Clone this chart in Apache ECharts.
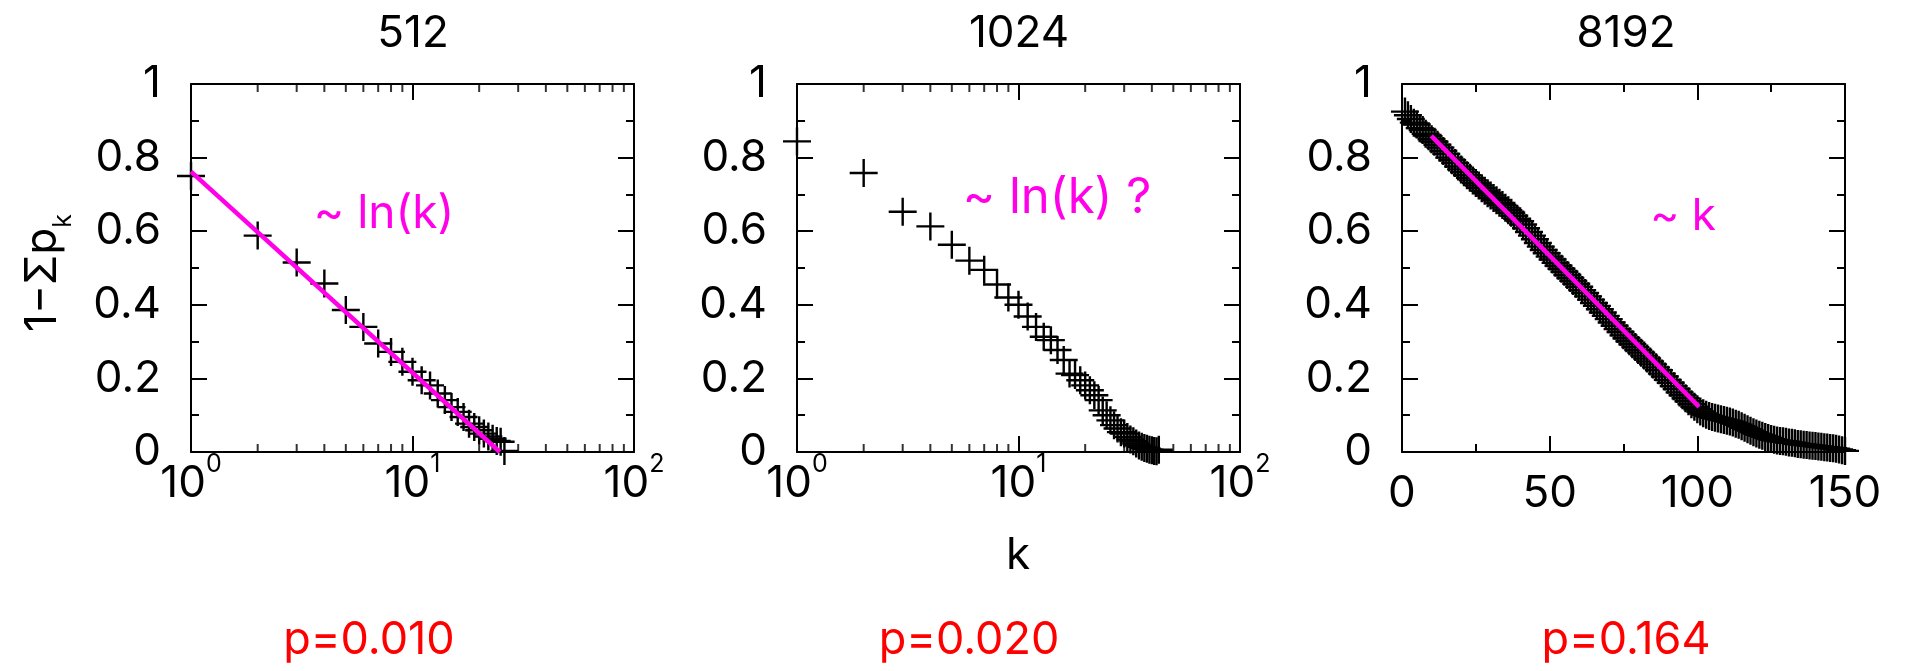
<!DOCTYPE html>
<html>
<head>
<meta charset="utf-8">
<script src="https://cdn.jsdelivr.net/npm/echarts@6/dist/echarts.min.js"></script>
<style>
html,body{margin:0;padding:0;background:#fff;}
#c{width:1905px;height:671px;}
</style>
</head>
<body>
<div id="c"></div>
<script>
// ---- data ----
const panelTitles = ['512', '1024', '8192'];
const pLabels = ['p=0.010', 'p=0.020', 'p=0.164'];
const fitLabels = ['~ ln(k)', '~ ln(k) ?', '~ k'];
const logMinorTicks = [2, 3, 4, 5, 6, 7, 8, 9, 20, 30, 40, 50, 60, 70, 80, 90];

const v512 = [0.750, 0.588, 0.515, 0.458, 0.386, 0.340, 0.295, 0.272, 0.245, 0.218,
  0.195, 0.181, 0.159, 0.141, 0.122, 0.109, 0.095, 0.077, 0.068, 0.059,
  0.050, 0.042, 0.036, 0.030, 0.028, 0.003];
const fit512 = [[1, 0.762], [24.8, 0]];

const v1024 = [0.844, 0.758, 0.653, 0.613, 0.563, 0.520, 0.495, 0.455, 0.420, 0.400,
  0.368, 0.340, 0.313, 0.304, 0.277, 0.250, 0.213, 0.209, 0.195, 0.181,
  0.168, 0.154, 0.141, 0.113, 0.100, 0.086, 0.073, 0.064, 0.054, 0.050,
  0.041, 0.034, 0.029, 0.023, 0.018, 0.014, 0.011, 0.009, 0.006, 0.005,
  0.003, 0.002, 0.006];

const v8192 = [0.925, 0.915, 0.905, 0.895, 0.890, 0.880, 0.875, 0.865, 0.858, 0.850,
  0.843, 0.835, 0.827, 0.818, 0.810, 0.800, 0.793, 0.785, 0.776, 0.768,
  0.760, 0.752, 0.745, 0.738, 0.731, 0.724, 0.717, 0.710, 0.703, 0.697,
  0.690, 0.684, 0.677, 0.671, 0.664, 0.657, 0.650, 0.642, 0.634, 0.627,
  0.618, 0.608, 0.598, 0.588, 0.578, 0.568, 0.558, 0.549, 0.540, 0.531,
  0.523, 0.514, 0.506, 0.498, 0.490, 0.481, 0.473, 0.465, 0.457, 0.449,
  0.440, 0.432, 0.423, 0.414, 0.405, 0.397, 0.388, 0.379, 0.370, 0.361,
  0.352, 0.343, 0.334, 0.326, 0.317, 0.309, 0.301, 0.293, 0.285, 0.277,
  0.270, 0.262, 0.254, 0.246, 0.238, 0.230, 0.222, 0.213, 0.205, 0.196,
  0.188, 0.179, 0.171, 0.162, 0.154, 0.146, 0.138, 0.130, 0.123, 0.116,
  0.110, 0.105, 0.101, 0.098, 0.095, 0.093, 0.091, 0.089, 0.087, 0.085,
  0.083, 0.080, 0.077, 0.074, 0.070, 0.066, 0.062, 0.058, 0.054, 0.050,
  0.047, 0.044, 0.041, 0.038, 0.035, 0.033, 0.031, 0.030, 0.029, 0.028,
  0.026, 0.025, 0.024, 0.022, 0.021, 0.020, 0.019, 0.018, 0.017, 0.016,
  0.015, 0.014, 0.013, 0.012, 0.011, 0.010, 0.009, 0.007, 0.005, 0.003];
const fit8192 = [[9.9, 0.859], [100.6, 0.1225]];

// ---- build ----
const FONT = "Inter, 'Liberation Sans', Arial, sans-serif";
const MAGENTA = '#ff00e8';
const pairs = (vals) => vals.map((v, i) => [i + 1, v]);
const plusPath = 'path://M0,4.57H10V5.43H0Z M4.57,0H5.43V10H4.57Z';

const gridLefts = [191, 797, 1402];
const GW = 443, GT = 84, GH = 368;

const grids = gridLefts.map(l => ({left: l, top: GT, width: GW, height: GH, outerBoundsMode: 'none', containLabel: false}));

const axisLineStyle = {show: true, onZero: false, lineStyle: {color: '#000', width: 2}};
const majorTick = {show: true, inside: true, length: 16, lineStyle: {color: '#000', width: 2}};
const minorTickCfg = {show: true, splitNumber: 2, length: 8, lineStyle: {color: '#000', width: 2}};

const xAxes = [];
const yAxes = [];
for (let g = 0; g < 3; g++) {
  const isLog = g < 2;
  const base = isLog ? {type: 'log', logBase: 10, min: 1, max: 100} : {type: 'value', min: 0, max: 150, interval: 50};
  xAxes.push(Object.assign({}, base, {
    gridIndex: g, position: 'bottom',
    axisLine: axisLineStyle, axisTick: majorTick,
    minorTick: isLog ? {show: false} : minorTickCfg,
    splitLine: {show: false},
    axisLabel: isLog ? {
      margin: 8, color: '#000', fontFamily: FONT,
      formatter: (v) => '{b|10}{sup|' + Math.round(Math.log10(v)) + '}',
      rich: {
        b: {fontSize: 44, lineHeight: 46, fontFamily: FONT, color: '#000', verticalAlign: 'bottom'},
        sup: {fontSize: 25, lineHeight: 26, fontFamily: FONT, color: '#000', padding: [0, 0, 29, 0], verticalAlign: 'bottom'}
      }
    } : {margin: 19, fontSize: 44, lineHeight: 46, color: '#000', fontFamily: FONT}
  }));
  xAxes.push(Object.assign({}, base, {
    gridIndex: g, position: 'top',
    axisLine: axisLineStyle, axisTick: majorTick,
    minorTick: isLog ? {show: false} : minorTickCfg,
    splitLine: {show: false}, axisLabel: {show: false}
  }));
  const ybase = {type: 'value', min: 0, max: 1, interval: 0.2, gridIndex: g, splitLine: {show: false}};
  yAxes.push(Object.assign({}, ybase, {
    position: 'left', axisLine: axisLineStyle, axisTick: majorTick, minorTick: minorTickCfg,
    axisLabel: {margin: 30, fontSize: 44, color: '#000', fontFamily: FONT}
  }));
  yAxes.push(Object.assign({}, ybase, {
    position: 'right', axisLine: axisLineStyle, axisTick: majorTick, minorTick: minorTickCfg,
    axisLabel: {show: false}
  }));
}

const crossSeries = (g, data) => ({
  type: 'scatter', xAxisIndex: 2 * g, yAxisIndex: 2 * g, data: data,
  symbol: plusPath, symbolSize: 28, clip: false, silent: true,
  itemStyle: {color: '#000', opacity: 1}
});
const fitSeries = (g, data) => ({
  type: 'line', xAxisIndex: 2 * g, yAxisIndex: 2 * g, data: data,
  showSymbol: false, symbol: 'none', clip: false, silent: true,
  lineStyle: {color: MAGENTA, width: 4.5}
});
const minorSeries = (g, yv, off) => ({
  type: 'scatter', xAxisIndex: 2 * g, yAxisIndex: 2 * g,
  data: logMinorTicks.map(t => [t, yv]),
  symbol: 'rect', symbolSize: [2, 8], symbolOffset: [0, off], clip: false, silent: true,
  itemStyle: {color: '#000'}
});

const series = [
  crossSeries(0, pairs(v512)), fitSeries(0, fit512),
  minorSeries(0, 0, -4), minorSeries(0, 1, 4),
  crossSeries(1, pairs(v1024)),
  minorSeries(1, 0, -4), minorSeries(1, 1, 4),
  crossSeries(2, pairs(v8192)), fitSeries(2, fit8192)
];

const txt = (x, y, text, size, color, extra) => Object.assign({
  type: 'text', x: x, y: y, silent: true,
  style: {text: text, fontSize: size, fontFamily: FONT, fill: color,
    align: 'center', verticalAlign: 'middle', textAlign: 'center', textVerticalAlign: 'middle'}
}, extra || {});

const graphics = [];
const titleX = [413, 1019, 1626];
panelTitles.forEach((t, i) => graphics.push(txt(titleX[i], 34, t, 44, '#000')));
const pX = [369, 969, 1626];
pLabels.forEach((t, i) => graphics.push(txt(pX[i], 640, t, 45, '#ff0000')));
graphics.push(txt(384, 214, fitLabels[0], 46, MAGENTA));
graphics.push(txt(1057, 198, fitLabels[1], 49, MAGENTA));
graphics.push(txt(1683, 217, fitLabels[2], 44, MAGENTA));
graphics.push(txt(1018, 556, 'k', 44, '#000'));
graphics.push({
  type: 'text', x: 44, y: 273, rotation: Math.PI / 2, silent: true,
  style: {
    text: '{m|1−Σp}{s|k}', fontFamily: FONT, fill: '#000',
    align: 'center', verticalAlign: 'middle', textAlign: 'center', textVerticalAlign: 'middle',
    rich: {
      m: {fontSize: 44, lineHeight: 46, fontFamily: FONT, fill: '#000', color: '#000', verticalAlign: 'top'},
      s: {fontSize: 25, lineHeight: 26, fontFamily: FONT, fill: '#000', color: '#000', verticalAlign: 'top', padding: [30, 0, 0, 0]}
    }
  }
});

const chart = echarts.init(document.getElementById('c'), null, {renderer: 'canvas'});
chart.setOption({
  animation: false,
  backgroundColor: '#fff',
  grid: grids,
  xAxis: xAxes,
  yAxis: yAxes,
  series: series,
  graphic: graphics
});
</script>
</body>
</html>
